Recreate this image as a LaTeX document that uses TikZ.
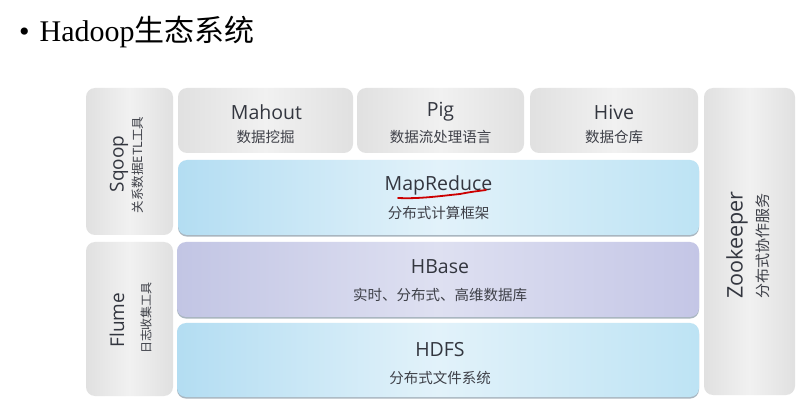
\documentclass[tikz,border=0pt]{standalone}
\usepackage{fontspec}
\setmainfont{Liberation Serif}
\newfontfamily\cjk{Noto Sans CJK SC}
\newfontfamily\sansf{Open Sans}
\begin{document}
\begin{tikzpicture}[x=1pt,y=-1pt,
  greybox/.style={rounded corners=9pt, inner sep=0pt,
    left color=gray!24, right color=gray!24, middle color=gray!11},
  bluebox/.style={rounded corners=9pt, inner sep=0pt,
    left color=blueL, right color=blueR, middle color=blueM,
    preaction={fill=shadowc, transform canvas={yshift=-1.6pt}}},
  purplebox/.style={rounded corners=9pt, inner sep=0pt,
    left color=purL, right color=purR, middle color=purM,
    preaction={fill=shadowc, transform canvas={yshift=-1.6pt}}},
  ttl/.style={font=\sansf\fontsize{19.5}{19.5}\selectfont, text=txtc, inner sep=0pt},
  sub/.style={font=\cjk\fontsize{14.5}{15}\selectfont, text=subc, inner sep=0pt},
  vsub/.style={font=\cjk\fontsize{12.5}{13}\selectfont, text=subc, inner sep=0pt, rotate=90},
  vttl/.style={font=\sansf\fontsize{19}{19}\selectfont, text=txtc, inner sep=0pt, rotate=90}
]
\definecolor{blueL}{HTML}{B3DDF2}
\definecolor{blueM}{HTML}{E2F2FA}
\definecolor{blueR}{HTML}{BDE3F4}
\definecolor{purL}{HTML}{C2C5E4}
\definecolor{purM}{HTML}{DEE0F1}
\definecolor{purR}{HTML}{C4C6E6}
\definecolor{shadowc}{HTML}{A9B6C0}
\definecolor{txtc}{HTML}{33363F}
\definecolor{subc}{HTML}{3E4048}
\useasboundingbox (0,0) rectangle (812,406);
\fill[white] (0,0) rectangle (812,406);

% title
\node[font=\fontsize{30}{30}\selectfont, anchor=base west, inner sep=0pt] (title) at (19,42)
  {\textbullet\hspace{10pt}Hadoop{\cjk 生态系统}};

% side boxes
\node[greybox, minimum width=87pt, minimum height=147pt] (sqoop) at (129.5,161.5) {};
\node[greybox, minimum width=87pt, minimum height=154pt] (flume) at (129.5,319) {};
\node[greybox, minimum width=91pt, minimum height=307pt] (zoo) at (749.5,241.5) {};

% top boxes
\node[greybox, minimum width=175pt, minimum height=65pt] (mahout) at (265.5,120.5) {};
\node[greybox, minimum width=167pt, minimum height=65pt] (pig) at (440.5,120.5) {};
\node[greybox, minimum width=168pt, minimum height=65pt] (hive) at (614,120.5) {};

% layers
\node[bluebox, minimum width=521pt, minimum height=75pt] (mr) at (438.5,197.5) {};
\node[purplebox, minimum width=522pt, minimum height=75pt] (hbase) at (438,279.5) {};
\node[bluebox, minimum width=522pt, minimum height=74pt] (hdfs) at (438,360) {};

% texts
\node[ttl] (mahoutT) at (266.5,112) {Mahout};
\node[sub] (mahoutS) at (265.5,137) {数据挖掘};
\node[ttl] (pigT) at (440.5,112) {Pig};
\node[sub] (pigS) at (440.5,137) {数据流处理语言};
\node[ttl] (hiveT) at (614,112) {Hive};
\node[sub] (hiveS) at (614,137) {数据仓库};
\node[ttl] (mrT) at (438.5,185) {MapReduce};
\node[sub] (mrS) at (438.5,213) {分布式计算框架};
\node[ttl] (hbT) at (440,267) {HBase};
\node[sub] (hbS) at (440,295) {实时、分布式、高维数据库};
\node[ttl] (hdT) at (440,350) {HDFS};
\node[sub] (hdS) at (440,378) {分布式文件系统};

\node[vttl] (sqT) at (119,164) {Sqoop};
\node[vsub] (sqS) at (138,165) {关系数据ETL工具};
\node[vttl] (flT) at (117,320) {Flume};
\node[vsub, font=\cjk\fontsize{12}{12}\selectfont] (flS) at (146,318) {日志收集工具};
\node[vttl, font=\sansf\fontsize{21.5}{21.5}\selectfont] (zoT) at (737,245) {Zookeeper};
\node[vsub, font=\cjk\fontsize{15}{15}\selectfont] (zoS) at (763,246) {分布式协作服务};

% red hand-drawn underline
\draw[red!80!black, line width=1.8pt, line cap=round]
  (398,198) .. controls (420,199) and (440,196) .. (460,194)
  .. controls (470,192) and (478,191) .. (486,190);
\end{tikzpicture}
\end{document}
